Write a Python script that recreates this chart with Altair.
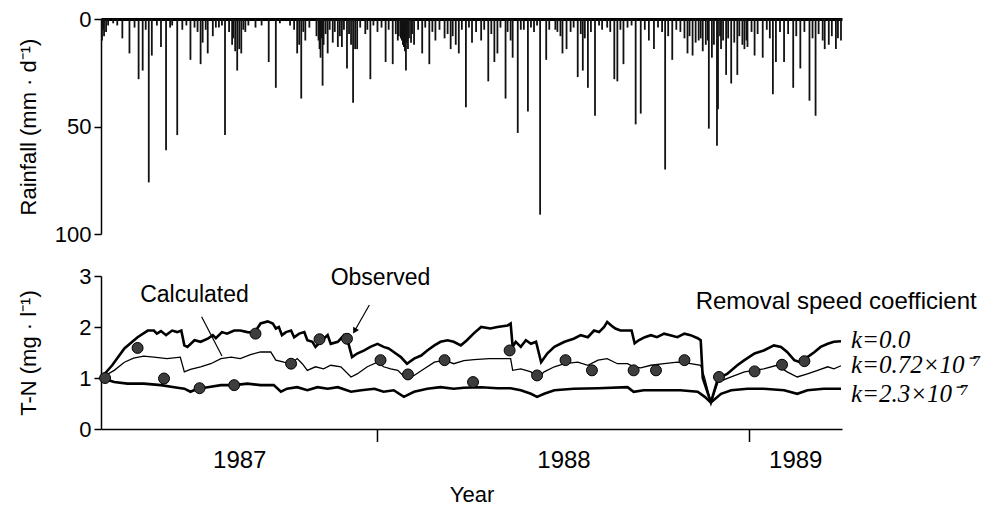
import datetime as dt
import altair as alt
import pandas as pd

# ---------------- data ----------------
START = dt.date(1987, 4, 4)      # first day shown
END = dt.date(1989, 4, 2)        # last day shown
year_starts = ["1988-01-01", "1989-01-01"]

# daily rainfall, day offset from START and mm/d
rain_day = [1, 3, 21, 28, 37, 41, 47, 50, 59, 64, 75, 88, 98, 100, 105, 110, 116, 122, 129, 132,
            134, 136, 138, 142, 152, 165, 172, 193, 195, 197, 201, 215, 216, 218, 219, 223, 228, 233,
            237, 242, 246, 248, 250, 252, 260, 265, 272, 280, 287, 292, 295, 297, 299, 300, 302, 305,
            308, 316, 323, 329, 338, 344, 349, 352, 359, 365, 374, 381, 387, 390, 398, 403, 405, 410,
            413, 420, 426, 432, 438, 447, 452, 454, 458, 462, 469, 474, 479, 486, 493, 505, 508, 514,
            526, 531, 539, 544, 555, 562, 570, 577, 582, 588, 592, 595, 598, 601, 606, 607, 610, 615,
            620, 626, 631, 633, 636, 643, 651, 661, 664, 672, 681, 688, 697, 703, 712, 716, 723, 728,
            2, 5, 7, 12, 16, 33, 44, 55, 68, 70, 80, 84, 92, 95, 103, 113, 119, 126, 130, 140, 145,
            158, 176, 186, 190, 199, 205, 212, 214, 217, 221, 225, 230, 235, 239, 244, 255, 262, 268,
            276, 283, 290, 293, 296, 298, 301, 303, 306, 312, 319, 326, 333, 341, 346, 355, 362, 369,
            377, 384, 393, 400, 416, 423, 429, 441, 449, 465, 472, 476, 482, 490, 498, 501, 511, 518,
            522, 535, 548, 552, 558, 566, 574, 579, 585, 590, 597, 603, 609, 612, 617, 623, 628, 635,
            640, 646, 655, 658, 668, 676, 684, 692, 700, 706, 710, 719, 725]
rain_mm = [10, 8, 9, 16, 28, 24, 76, 17, 13, 61, 54, 19, 21, 11, 16, 8, 4, 54, 12, 15,
           24, 14, 16, 6, 4, 20, 32, 16, 12, 37, 10, 14, 18, 31, 12, 16, 11, 13,
           13, 23, 12, 39, 14, 14, 7, 28, 6, 20, 21, 10, 9, 12, 15, 24, 14, 11,
           12, 16, 21, 10, 9, 14, 12, 16, 41, 11, 10, 29, 20, 16, 37, 10, 18, 53,
           5, 43, 6, 91, 19, 5, 8, 16, 14, 6, 27, 24, 32, 45, 5, 28, 29, 21,
           49, 44, 10, 14, 70, 19, 6, 16, 17, 10, 15, 12, 51, 18, 59, 42, 14, 26,
           30, 26, 12, 14, 13, 17, 18, 35, 20, 20, 32, 23, 38, 45, 14, 12, 14, 10,
           5, 6, 3, 2, 3, 4, 5, 3, 4, 3, 5, 3, 4, 6, 5, 4, 3, 6, 9, 5, 3,
           3, 2, 3, 5, 6, 4, 8, 10, 9, 7, 5, 6, 8, 5, 7, 4, 5, 3,
           4, 5, 7, 8, 10, 13, 11, 9, 7, 5, 4, 6, 5, 7, 8, 5, 4, 6,
           5, 7, 4, 6, 5, 4, 3, 5, 6, 4, 7, 9, 6, 3, 4, 6, 5, 4,
           3, 5, 4, 6, 8, 5, 9, 8, 11, 9, 10, 12, 8, 10, 9, 11, 8, 10,
           6, 7, 5, 9, 6, 7, 8, 6, 9, 7, 10, 8, 9]

# calculated T-N, k = 0.0
k0_day = [0, 11, 23, 36, 46, 52, 55, 59, 64, 70, 75, 79, 82, 85, 92, 98, 105, 110, 113, 119, 124,
          131, 137, 144, 151, 157, 164, 169, 172, 175, 178, 182, 187, 190, 195, 200, 203, 208, 211,
          216, 223, 226, 233, 239, 242, 247, 252, 259, 265, 272, 278, 283, 288, 295, 301, 308, 315,
          321, 328, 334, 341, 347, 354, 360, 367, 374, 383, 390, 400, 403, 405, 408, 413, 418, 423,
          428, 433, 439, 446, 456, 465, 472, 479, 485, 490, 495, 498, 502, 506, 511, 518, 522, 525,
          529, 535, 541, 547, 554, 560, 567, 574, 580, 587, 590, 592, 600, 607, 616, 626, 633, 643,
          652, 662, 669, 675, 682, 688, 695, 702, 708, 715, 721, 728]
k0_tn = [1.00, 1.25, 1.58, 1.80, 1.93, 1.93, 1.87, 1.92, 1.84, 1.93, 1.90, 1.93, 1.64, 1.61, 1.74,
         1.71, 1.77, 1.84, 1.78, 1.90, 1.87, 1.93, 1.93, 1.90, 1.89, 2.07, 2.11, 2.07, 1.97, 2.00,
         1.84, 1.90, 1.93, 1.80, 1.87, 1.90, 1.74, 1.71, 1.61, 1.71, 1.84, 1.67, 1.71, 1.84, 1.78,
         1.41, 1.48, 1.54, 1.61, 1.67, 1.61, 1.58, 1.51, 1.41, 1.28, 1.38, 1.44, 1.54, 1.64, 1.71,
         1.74, 1.71, 1.64, 1.74, 1.88, 2.00, 1.97, 2.00, 2.03, 2.07, 1.61, 1.71, 1.61, 1.74, 1.67,
         1.71, 1.31, 1.48, 1.61, 1.71, 1.77, 1.84, 1.80, 1.93, 1.90, 2.00, 2.10, 2.03, 1.97, 1.93,
         1.93, 1.93, 1.68, 1.74, 1.80, 1.84, 1.80, 1.87, 1.84, 1.80, 1.87, 1.84, 1.78, 1.74, 1.00,
         0.52, 0.99, 1.08, 1.25, 1.35, 1.48, 1.54, 1.64, 1.61, 1.51, 1.35, 1.31, 1.41, 1.51, 1.61,
         1.67, 1.71, 1.72]

# calculated T-N, k = 0.72e-7
k072_day = [0, 13, 23, 32, 42, 52, 65, 78, 82, 88, 98, 108, 118, 128, 137, 147, 157, 167, 172, 180,
            187, 193, 198, 203, 211, 219, 226, 236, 246, 252, 262, 272, 278, 285, 292, 300, 308, 318,
            328, 338, 347, 357, 367, 382, 400, 403, 405, 413, 423, 429, 436, 446, 456, 469, 479, 489,
            498, 508, 518, 524, 531, 541, 554, 567, 580, 590, 594, 600, 607, 620, 633, 643, 652, 665,
            675, 685, 695, 705, 715, 721, 728]
k072_tn = [1.00, 1.15, 1.31, 1.39, 1.43, 1.41, 1.38, 1.41, 1.12, 1.17, 1.22, 1.28, 1.38, 1.41, 1.38,
           1.46, 1.51, 1.51, 1.35, 1.31, 1.28, 1.38, 1.28, 1.15, 1.22, 1.18, 1.25, 1.22, 1.02, 1.08,
           1.22, 1.31, 1.22, 1.18, 1.15, 0.99, 1.05, 1.18, 1.31, 1.35, 1.28, 1.34, 1.36, 1.38, 1.38,
           1.38, 1.15, 1.18, 1.12, 0.99, 1.12, 1.22, 1.28, 1.31, 1.25, 1.35, 1.38, 1.28, 1.28, 1.22,
           1.20, 1.25, 1.28, 1.31, 1.28, 1.25, 0.99, 0.52, 0.92, 1.02, 1.12, 1.15, 1.18, 1.25, 1.12,
           1.02, 1.08, 1.15, 1.22, 1.18, 1.24]

# calculated T-N, k = 2.3e-7
k23_day = [0, 13, 26, 42, 59, 72, 82, 88, 95, 105, 118, 131, 144, 157, 170, 177, 183, 193, 203, 213,
           223, 233, 246, 256, 269, 278, 288, 298, 308, 321, 334, 347, 357, 374, 390, 403, 413, 423,
           429, 436, 446, 465, 489, 518, 524, 534, 554, 570, 587, 594, 600, 610, 620, 636, 652, 672,
           685, 695, 711, 728]
k23_tn = [1.00, 0.92, 0.89, 0.89, 0.86, 0.82, 0.79, 0.73, 0.79, 0.82, 0.86, 0.86, 0.89, 0.86, 0.86,
          0.73, 0.79, 0.82, 0.76, 0.82, 0.79, 0.82, 0.73, 0.76, 0.79, 0.73, 0.76, 0.63, 0.73, 0.79,
          0.82, 0.79, 0.81, 0.82, 0.80, 0.80, 0.76, 0.69, 0.63, 0.69, 0.76, 0.79, 0.80, 0.82, 0.73,
          0.76, 0.76, 0.76, 0.73, 0.63, 0.52, 0.69, 0.76, 0.79, 0.79, 0.76, 0.69, 0.76, 0.79, 0.79]

# observed T-N
obs_day = [4, 36, 62, 97, 131, 152, 187, 215, 242, 275, 302, 338, 366, 402, 429, 457, 483, 524, 546,
           574, 608, 643, 670, 692]
obs_tn = [1.00, 1.59, 0.99, 0.80, 0.86, 1.87, 1.28, 1.76, 1.77, 1.35, 1.07, 1.35, 0.92, 1.54, 1.05,
          1.35, 1.15, 1.15, 1.15, 1.35, 1.02, 1.13, 1.26, 1.33]

# annotations
note_text = ["Calculated", "Observed"]
note_day = [92, 275]
note_tn = [2.62, 2.97]
pointer_day = [99, 264]
pointer_tn = [2.20, 2.43]
pointer_end_day = [119, 250]
pointer_end_tn = [1.43, 1.94]
legend_title = "Removal speed coefficient"
legend_title_day = 585
legend_title_tn = 2.49
k_labels = ["k=0.0", "k=0.72×10⁻⁷", "k=2.3×10⁻⁷"]
k_label_tn = [1.75, 1.25, 0.69]

# ---------------- helpers ----------------
FONT = "Liberation Sans"
SERIF = "Liberation Serif"


def day_to_date(d):
    return (START + dt.timedelta(days=int(d))).isoformat()


def dtm(d):
    return alt.DateTime(year=d.year, month=d.month, date=d.day, utc=True)


def series(days, vals, **extra):
    df = pd.DataFrame({"date": [day_to_date(d) for d in days], "v": vals})
    for k, col in extra.items():
        df[k] = col
    return df


bounds = [START] + [dt.date.fromisoformat(s) for s in year_starts] + [END]
mids = [a + (b - a) / 2 for a, b in zip(bounds[:-1], bounds[1:])]

xscale = alt.Scale(type="utc", domain=[dtm(START), dtm(END)])

# ---------------- rainfall panel ----------------
rain_df = pd.DataFrame({"date": [day_to_date(d) for d in rain_day], "mm": rain_mm})
top = alt.Chart(rain_df).mark_rule(color="#111111", strokeWidth=1.8).encode(
    x=alt.X("date:T", scale=xscale,
            axis=alt.Axis(orient="top", labels=False, ticks=False, title=None,
                          domainWidth=3, domainColor="black")),
    y=alt.Y("mm:Q", scale=alt.Scale(domain=[0, 100], reverse=True),
            axis=alt.Axis(values=[0, 50, 100], title="Rainfall (mm · d⁻¹)",
                          tickSize=7, tickWidth=1.5, domainWidth=1.5, labelPadding=3,
                          titlePadding=14)),
    y2=alt.datum(0),
).properties(width=741, height=215)

# ---------------- T-N panel ----------------
xenc = alt.X("date:T", scale=xscale,
             axis=alt.Axis(values=[dtm(m) for m in mids],
                           labelExpr="utcFormat(datum.value, '%Y')",
                           ticks=False, tickSize=0, labelPadding=19, labelFontSize=24,
                           domainWidth=1.5, title="Year", titlePadding=12))
yenc = alt.Y("v:Q", scale=alt.Scale(domain=[0, 3]),
             axis=alt.Axis(values=[0, 1, 2, 3], title="T-N (mg · l⁻¹)",
                           tickSize=7, tickWidth=1.5, domainWidth=1.5, labelPadding=3,
                           titlePadding=38))

line_k0 = alt.Chart(series(k0_day, k0_tn)).mark_line(color="black", strokeWidth=2.6).encode(x=xenc, y=yenc)
line_k072 = alt.Chart(series(k072_day, k072_tn)).mark_line(color="black", strokeWidth=1.3).encode(x=xenc, y=yenc)
line_k23 = alt.Chart(series(k23_day, k23_tn)).mark_line(color="black", strokeWidth=2.6).encode(x=xenc, y=yenc)

obs = alt.Chart(series(obs_day, obs_tn)).mark_point(
    filled=True, size=120, color="#3d3d3d", stroke="black", strokeWidth=1, opacity=1
).encode(x=xenc, y=yenc)

notes = alt.Chart(series(note_day, note_tn, label=note_text)).mark_text(
    font=FONT, fontSize=23, color="black", align="center", baseline="middle"
).encode(x=xenc, y=yenc, text="label:N")

ptr_df = series(pointer_day, pointer_tn,
                date2=[day_to_date(d) for d in pointer_end_day], v2=pointer_end_tn)
pointers = alt.Chart(ptr_df).mark_rule(color="black", strokeWidth=1.2).encode(
    x=xenc, y=yenc, x2="date2:T", y2="v2:Q")

head = alt.Chart(series(pointer_end_day[1:], pointer_end_tn[1:])).mark_point(
    shape="triangle", angle=209, filled=True, size=45, color="black", opacity=1
).encode(x=xenc, y=yenc)

leg_title = alt.Chart(series([legend_title_day], [legend_title_tn], label=[legend_title])).mark_text(
    font=FONT, fontSize=24, color="black", align="left", baseline="middle"
).encode(x=xenc, y=yenc, text="label:N")

end_day = (END - START).days
klab = alt.Chart(series([end_day] * 3, k_label_tn, label=k_labels)).mark_text(
    font=SERIF, fontStyle="italic", fontSize=25, color="black", align="left",
    baseline="middle", dx=9
).encode(x=xenc, y=yenc, text="label:N")

ticks_df = pd.DataFrame({"date": year_starts})
year_ticks = alt.Chart(ticks_df).mark_rule(color="black", strokeWidth=1.5).encode(
    x=xenc, y=alt.value(153), y2=alt.value(166))

bottom = alt.layer(
    line_k0, line_k072, line_k23, obs, pointers, head, notes, leg_title, klab, year_ticks
).properties(width=741, height=153)

chart = alt.vconcat(top, bottom, spacing=20,
                    padding={"left": 9, "top": 0, "right": 0, "bottom": 0}).configure_view(
    stroke=None
).configure_axis(
    grid=False, labelFont=FONT, titleFont=FONT, labelFontSize=22, titleFontSize=22,
    titleFontWeight="normal", labelColor="black", titleColor="black",
    domainColor="black", tickColor="black"
)

chart.save("out.html", embed_options={"renderer": "svg", "actions": False})
